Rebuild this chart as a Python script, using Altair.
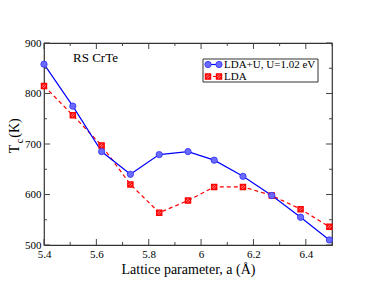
import altair as alt
import pandas as pd

# Data
lattice_a = [5.40, 5.51, 5.62, 5.73, 5.84, 5.95, 6.05, 6.16, 6.27, 6.38, 6.49]
tc_ldau = [858, 775, 685, 640, 679, 685, 668, 636, 598, 555, 510]
tc_lda = [815, 757, 697, 620, 564, 588, 615, 615, 598, 571, 536]

x_major = [5.4, 5.6, 5.8, 6.0, 6.2, 6.4]
x_minor = [5.5, 5.7, 5.9, 6.1, 6.3, 6.5]
y_major = [500, 600, 700, 800, 900]
y_minor = [550, 650, 750, 850]

series_ldau = "LDA+U, U=1.02 eV"
series_lda = "LDA"

W, H = 288, 202
FONT = "Liberation Serif"

df_u = pd.DataFrame({"a": lattice_a, "tc": tc_ldau})
df_l = pd.DataFrame({"a": lattice_a, "tc": tc_lda})

xs = alt.Scale(domain=[5.4, 6.5], nice=False, zero=False)
ys = alt.Scale(domain=[500, 900], nice=False, zero=False)

hatch = "M-1,-1H1V1H-1Z M-1,0L0,-1 M-1,1L1,-1 M0,1L1,0"

x_axis = alt.Axis(values=x_major, ticks=False, grid=False, domain=False,
                  labelFont=FONT, labelFontSize=11, labelColor="black",
                  labelFontWeight="normal",
                  labelPadding=3, labelExpr="format(datum.value, '.1~f')",
                  title="Lattice parameter, a (Å)", titleFont=FONT,
                  titleFontSize=14, titleFontWeight="normal", titleColor="black",
                  titlePadding=3, labelFlush=False)
y_axis = alt.Axis(values=y_major, ticks=False, grid=False, domain=False,
                  labelFont=FONT, labelFontSize=11, labelColor="black",
                  labelFontWeight="normal",
                  labelPadding=3, title="")

X = lambda f: alt.X(f, scale=xs, axis=x_axis)
Y = lambda f: alt.Y(f, scale=ys, axis=y_axis)

base_u = alt.Chart(df_u)
base_l = alt.Chart(df_l)

line_l = base_l.mark_line(color="#ff0000", strokeDash=[4, 3], strokeWidth=1.2).encode(
    x=X("a:Q"), y=Y("tc:Q"))
pts_l = base_l.mark_point(shape=hatch, size=28, filled=False, fill="#ff9a9a",
                          fillOpacity=1, stroke="#ff0000", strokeWidth=1.2).encode(
    x=X("a:Q"), y=Y("tc:Q"))
line_u = base_u.mark_line(color="#0000ff", strokeWidth=1.2).encode(
    x=X("a:Q"), y=Y("tc:Q"))
pts_u = base_u.mark_point(shape="circle", size=40, filled=True, fill="#6b6bff",
                          fillOpacity=1, stroke="#3030ff", strokeWidth=0.8).encode(
    x=X("a:Q"), y=Y("tc:Q"))


def xticks(vals, ln):
    d = alt.Chart(pd.DataFrame({"a": vals}))
    b = d.mark_rule(color="#444444", strokeWidth=1).encode(
        x=X("a:Q"), y=alt.value(H), y2=alt.value(H - ln))
    t = d.mark_rule(color="#444444", strokeWidth=1).encode(
        x=X("a:Q"), y=alt.value(0), y2=alt.value(ln))
    return b + t


def yticks(vals, ln):
    d = alt.Chart(pd.DataFrame({"tc": vals}))
    l = d.mark_rule(color="#444444", strokeWidth=1).encode(
        y=Y("tc:Q"), x=alt.value(0), x2=alt.value(ln))
    r = d.mark_rule(color="#444444", strokeWidth=1).encode(
        y=Y("tc:Q"), x=alt.value(W), x2=alt.value(W - ln))
    return l + r


one = alt.Chart(pd.DataFrame({"k": [0]}))


def txt(text, x, y, size, angle=0, align="left"):
    kw = dict(text=text, font=FONT, fontSize=size, fontWeight="normal",
              align=align, baseline="middle", color="black")
    if angle:
        kw["angle"] = angle
    return one.mark_text(**kw).encode(x=alt.value(x), y=alt.value(y))


title_txt = txt("RS CrTe", 29, 15, 13)
ylab_T = txt("T", -29, 106, 14, angle=270, align="center")
ylab_c = txt("c", -24, 98, 10, angle=270, align="center")
ylab_K = txt("(K)", -29, 85, 14, angle=270, align="center")

leg_box = one.mark_rect(fill="white", stroke="#333333", strokeWidth=1).encode(
    x=alt.value(159), x2=alt.value(274), y=alt.value(16), y2=alt.value(39))
leg_line_u = one.mark_rule(color="#0000ff", strokeWidth=1.2).encode(
    x=alt.value(164), x2=alt.value(175), y=alt.value(21.5))
leg_line_l = one.mark_rule(color="#ff0000", strokeWidth=1.2, strokeDash=[3, 2]).encode(
    x=alt.value(164), x2=alt.value(175), y=alt.value(33.5))
leg_pts_u = alt.Chart(pd.DataFrame({"px": [164, 175]})).mark_point(
    shape="circle", size=40, filled=True, fill="#6b6bff", fillOpacity=1,
    stroke="#3030ff", strokeWidth=0.8).encode(
    x=alt.X("px:Q", scale=None, axis=None), y=alt.value(21.5))
leg_pts_l = alt.Chart(pd.DataFrame({"px": [164, 175]})).mark_point(
    shape=hatch, size=28, filled=False, fill="#ff9a9a", fillOpacity=1,
    stroke="#ff0000", strokeWidth=1.2).encode(
    x=alt.X("px:Q", scale=None, axis=None), y=alt.value(33.5))
leg_txt_u = txt(series_ldau, 180, 21.5, 11)
leg_txt_l = txt(series_lda, 180, 33.5, 11)

chart = alt.layer(
    line_l, line_u, pts_l, pts_u,
    xticks(x_major, 6), xticks(x_minor, 3), yticks(y_major, 6), yticks(y_minor, 3),
    title_txt, ylab_T, ylab_c, ylab_K,
    leg_box, leg_line_u, leg_line_l, leg_pts_u, leg_pts_l, leg_txt_u, leg_txt_l,
).properties(
    width=W, height=H,
    autosize=alt.AutoSizeParams(type="none"),
    padding={"left": 36, "top": 35, "right": 34, "bottom": 36},
    background="white",
).configure_view(stroke="#333333", strokeWidth=1.2)

chart.save("out.html", embed_options={"renderer": "svg", "actions": False})
